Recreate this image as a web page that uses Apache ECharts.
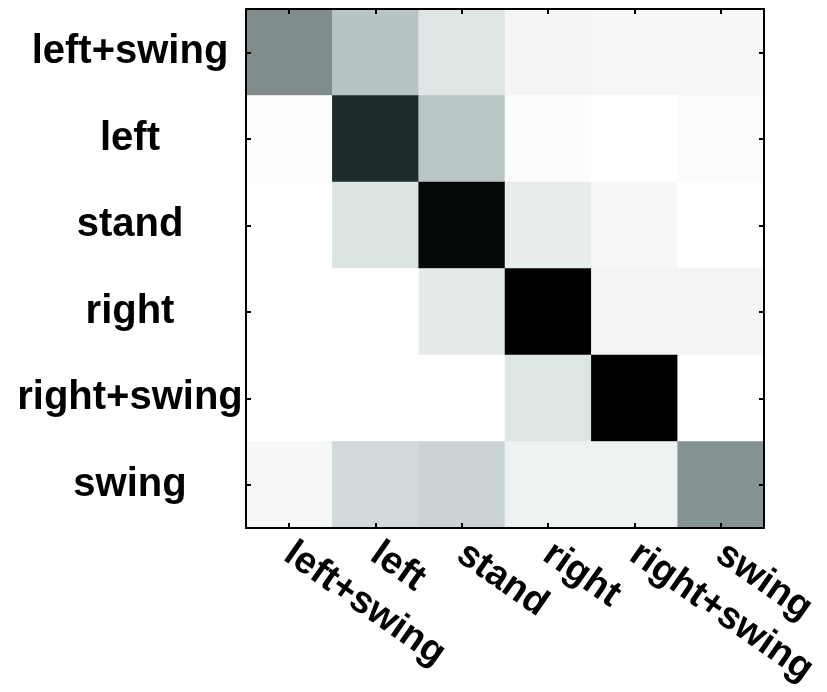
<!DOCTYPE html>
<html>
<head>
<meta charset="utf-8">
<script src="https://cdn.jsdelivr.net/npm/echarts@6/dist/echarts.min.js"></script>
<style>
  html, body { margin: 0; padding: 0; background: #fff; }
  #chart { width: 827px; height: 692px; }
</style>
</head>
<body>
<div id="chart"></div>
<script>
// classes (rows = true class, cols = predicted)
var classes = ['left+swing', 'left', 'stand', 'right', 'right+swing', 'swing'];

// darkness of each cell, one row per true class
var rowLeftSwing  = [0.50, 0.33, 0.18, 0.07, 0.06, 0.05];
var rowLeft       = [0.01, 0.83, 0.32, 0.02, 0.00, 0.03];
var rowStand      = [0.00, 0.19, 0.97, 0.13, 0.05, 0.00];
var rowRight      = [0.00, 0.00, 0.15, 1.00, 0.07, 0.07];
var rowRightSwing = [0.00, 0.00, 0.00, 0.18, 1.00, 0.00];
var rowSwing      = [0.05, 0.23, 0.26, 0.10, 0.10, 0.48];

var rows = [rowLeftSwing, rowLeft, rowStand, rowRight, rowRightSwing, rowSwing];

var data = [];
for (var r = 0; r < rows.length; r++) {
    for (var c = 0; c < rows[r].length; c++) {
        data.push([c, r, rows[r][c]]);
    }
}

var fontFam = '"Liberation Sans", Arial, Helvetica, sans-serif';

// box edges + inward ticks, drawn above the cells
function frameAxis(pos) {
    return {
        type: 'category',
        data: classes,
        position: pos,
        z: 10,
        axisLine: { show: true, lineStyle: { color: '#000', width: 2 } },
        axisTick: { show: true, inside: true, alignWithLabel: true, length: 5, lineStyle: { color: '#000', width: 2 } },
        axisLabel: { show: false },
        splitLine: { show: false }
    };
}

var xBottom = frameAxis('bottom');
xBottom.axisLabel = {
    show: true,
    rotate: -35,
    align: 'left',
    verticalAlign: 'top',
    margin: 0,
    padding: [0, 0, 0, 12],
    color: '#000',
    fontSize: 38,
    fontWeight: 'bold',
    fontFamily: fontFam,
    interval: 0
};

var yLeft = frameAxis('left');
yLeft.inverse = true;
yLeft.axisLabel = {
    show: true,
    align: 'center',
    margin: 116,
    color: '#000',
    fontSize: 40,
    fontWeight: 'bold',
    fontFamily: fontFam,
    interval: 0
};
var yRight = frameAxis('right');
yRight.inverse = true;

var chart = echarts.init(document.getElementById('chart'));
var option = {
    backgroundColor: '#fff',
    animation: false,
    grid: {
        left: 246,
        top: 9,
        width: 518,
        height: 519,
        containLabel: false,
        outerBoundsMode: 'none'
    },
    xAxis: [xBottom, frameAxis('top')],
    yAxis: [yLeft, yRight],
    visualMap: {
        show: false,
        type: 'continuous',
        min: 0,
        max: 1,
        inRange: {
            color: ['#ffffff', '#e2e8e8', '#b5c3c2', '#7f8c8b', '#4a5758', '#1c2a2c', '#000000']
        }
    },
    series: [{
        type: 'heatmap',
        xAxisIndex: 0,
        yAxisIndex: 0,
        z: 1,
        data: data,
        itemStyle: { borderWidth: 0 },
        emphasis: { disabled: true }
    }]
};
chart.setOption(option);
</script>
</body>
</html>
